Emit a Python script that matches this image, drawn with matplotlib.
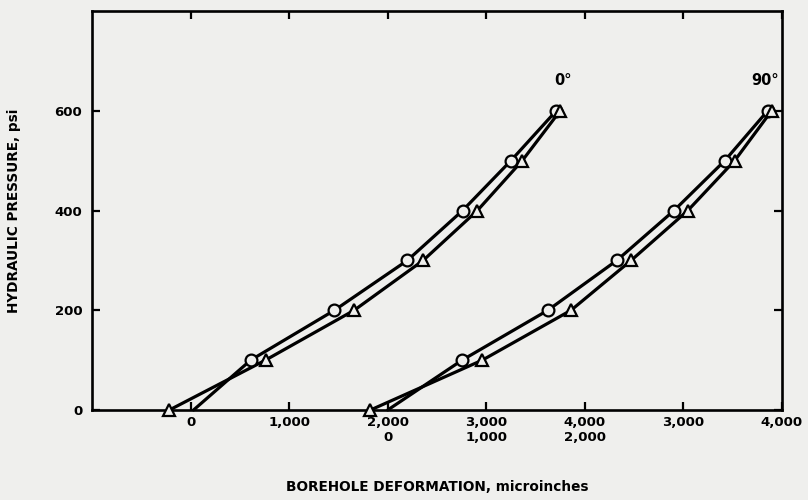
import matplotlib.pyplot as plt

# hydraulic pressure steps, psi
pressure = [0, 100, 200, 300, 400, 500, 600]

# borehole deformation, microinches
def0_circle = [30, 610, 1460, 2200, 2760, 3250, 3710]
def0_triangle = [-215, 760, 1660, 2360, 2910, 3365, 3750]
def90_circle = [0, 755, 1625, 2325, 2905, 3420, 3855]
def90_triangle = [-175, 960, 1860, 2470, 3045, 3520, 3895]

# the 90 deg curves sit on their own scale, shifted right by this much
offset_90 = 2000

tick_pos = [0, 1000, 2000, 3000, 4000, 5000, 6000]
tick_labels = ["0", "1,000", "2,000\n0", "3,000\n1,000", "4,000\n2,000",
               "3,000", "4,000"]
y_ticks = [0, 200, 400, 600]

bg = "#efefed"
plt.rcParams["font.family"] = ["DejaVu Sans"]
plt.rcParams["font.weight"] = "bold"

fig = plt.figure(figsize=(8.08, 5.0), dpi=100, facecolor=bg)
ax = fig.add_axes([0.1139, 0.18, 0.8539, 0.798])
ax.set_facecolor(bg)


def draw_curve(xs, marker, shift, skip_first):
    xs = [x + shift for x in xs]
    ax.plot(xs, pressure, color="black", linewidth=2.3, zorder=2,
            solid_capstyle="round", clip_on=False)
    start = 1 if skip_first else 0
    ax.plot(xs[start:], pressure[start:], linestyle="none", marker=marker,
            markersize=9 if marker == "^" else 8.5,
            markerfacecolor=bg, markeredgecolor="black",
            markeredgewidth=1.6, zorder=3, clip_on=False)


draw_curve(def0_circle, "o", 0, True)
draw_curve(def0_triangle, "^", 0, False)
draw_curve(def90_circle, "o", offset_90, True)
draw_curve(def90_triangle, "^", offset_90, False)

ax.text(3780, 660, "0°", fontsize=10.5, fontweight="bold", ha="center", va="center")
ax.text(5830, 660, "90°", fontsize=10.5, fontweight="bold", ha="center", va="center")

ax.set_xlim(-1000, 6000)
ax.set_ylim(0, 800)
ax.set_xticks(tick_pos)
ax.set_xticklabels(tick_labels, fontsize=9.5, fontweight="bold", linespacing=1.25)
ax.set_yticks(y_ticks)
ax.set_yticklabels([str(v) for v in y_ticks], fontsize=9.5, fontweight="bold")
ax.tick_params(direction="in", length=6, width=1.6, top=True, right=True, pad=4)
ax.tick_params(axis="y", pad=7)

for side in ax.spines.values():
    side.set_linewidth(1.9)

ax.set_xlabel("BOREHOLE DEFORMATION, microinches", fontsize=9.8,
              fontweight="bold", labelpad=26)
ax.set_ylabel("HYDRAULIC PRESSURE, psi", fontsize=9.8, fontweight="bold",
              labelpad=24)

fig.savefig("out.png", dpi=100, facecolor=bg)
